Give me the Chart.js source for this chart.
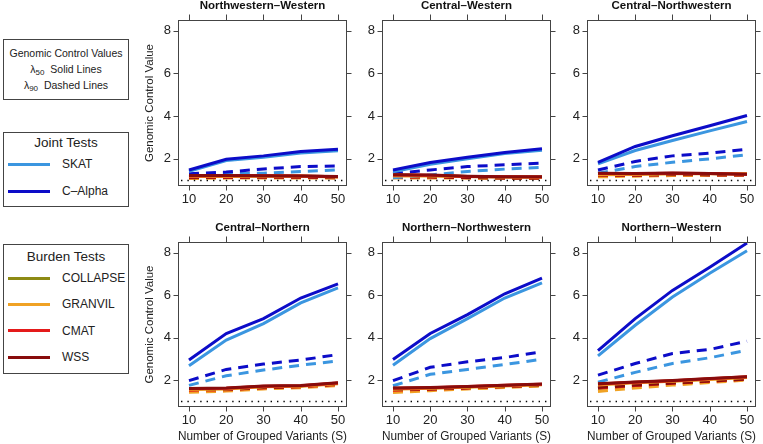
<!DOCTYPE html>
<html>
<head>
<meta charset="utf-8">
<script src="https://cdn.jsdelivr.net/npm/chart.js@4.4.0/dist/chart.umd.min.js"></script>
<style>
  body { margin: 0; background: #fff; }
  #wrap { position: relative; width: 763px; height: 444px; overflow: hidden;
          font-family: "Liberation Sans", Arial, sans-serif; color: #222; }
  #wrap canvas { position: absolute; }
  .box { position: absolute; left: 3px; width: 124px; border: 1px solid #444; }
  .txt { position: absolute; white-space: nowrap; }
  .ctr { left: 3px; width: 126px; text-align: center; }
  .swatch { position: absolute; left: 8px; width: 42px; height: 3px; }
  sub { font-size: 8px; vertical-align: -2px; line-height: 0; }
</style>
</head>
<body>
<div id="wrap">
  <div class="box" style="top:39px;height:59px"></div>
  <div class="txt ctr" style="top:47px;font-size:10.5px;line-height:12px">Genomic Control Values</div>
  <div class="txt ctr" style="top:63px;font-size:10.5px;line-height:12px">λ<sub>50</sub>&nbsp; Solid Lines</div>
  <div class="txt ctr" style="top:79px;font-size:10.5px;line-height:12px">λ<sub>90</sub>&nbsp; Dashed Lines</div>

  <div class="box" style="top:132px;height:73px"></div>
  <div class="txt ctr" style="top:136px;font-size:13.5px;line-height:14px">Joint Tests</div>
  <div id="jointKeys"></div>

  <div class="box" style="top:244px;height:128px"></div>
  <div class="txt ctr" style="top:250px;font-size:13.5px;line-height:14px">Burden Tests</div>
  <div id="burdenKeys"></div>
</div>
<script>
// grouped variants (x) and axis ticks
const groupSizes = [10, 20, 30, 40, 50];
const yTicks = [2, 4, 6, 8];
const panelTitles = ['Northwestern\u2013Western', 'Central\u2013Western', 'Central\u2013Northwestern',
                     'Central\u2013Northern', 'Northern\u2013Northwestern', 'Northern\u2013Western'];

// one row per panel, values at S = 10..50
const skatL50 = [
  [1.42, 1.92, 2.08, 2.27, 2.38],
  [1.40, 1.75, 2.00, 2.25, 2.40],
  [1.77, 2.39, 2.86, 3.31, 3.75],
  [2.67, 3.88, 4.66, 5.63, 6.34],
  [2.70, 3.95, 4.89, 5.86, 6.58],
  [3.14, 4.58, 5.91, 7.03, 8.09]
];
const skatL90 = [
  [1.17, 1.30, 1.33, 1.41, 1.48],
  [1.12, 1.25, 1.41, 1.52, 1.60],
  [1.33, 1.64, 1.84, 2.00, 2.19],
  [1.75, 2.20, 2.47, 2.70, 2.90],
  [1.73, 2.27, 2.50, 2.73, 2.98],
  [1.90, 2.36, 2.78, 3.05, 3.40]
];
const calphaL50 = [
  [1.48, 1.98, 2.14, 2.34, 2.45],
  [1.48, 1.83, 2.08, 2.30, 2.47],
  [1.84, 2.58, 3.08, 3.55, 4.03],
  [2.94, 4.19, 4.89, 5.86, 6.53],
  [2.97, 4.19, 5.08, 6.06, 6.80],
  [3.38, 4.89, 6.22, 7.31, 8.45]
];
const calphaL90 = [
  [1.30, 1.38, 1.53, 1.64, 1.67],
  [1.30, 1.48, 1.64, 1.72, 1.80],
  [1.48, 1.88, 2.14, 2.27, 2.45],
  [1.97, 2.50, 2.75, 2.94, 3.20],
  [1.97, 2.60, 2.86, 3.06, 3.33],
  [2.23, 2.78, 3.25, 3.44, 3.83]
];
const collapseL50 = [
  [1.20, 1.20, 1.21, 1.20, 1.16],
  [1.24, 1.22, 1.18, 1.16, 1.15],
  [1.30, 1.29, 1.32, 1.31, 1.29],
  [1.58, 1.60, 1.70, 1.72, 1.85],
  [1.60, 1.63, 1.68, 1.74, 1.79],
  [1.80, 1.89, 1.96, 2.05, 2.14]
];
const collapseL90 = [
  [1.12, 1.13, 1.14, 1.13, 1.12],
  [1.14, 1.14, 1.12, 1.10, 1.10],
  [1.22, 1.22, 1.25, 1.25, 1.24],
  [1.50, 1.53, 1.62, 1.67, 1.78],
  [1.50, 1.55, 1.62, 1.68, 1.74],
  [1.60, 1.73, 1.84, 1.93, 2.03]
];
const granvilL50 = [
  [1.17, 1.18, 1.19, 1.19, 1.15],
  [1.20, 1.20, 1.17, 1.15, 1.14],
  [1.26, 1.27, 1.30, 1.30, 1.30],
  [1.55, 1.58, 1.68, 1.71, 1.83],
  [1.57, 1.61, 1.66, 1.72, 1.78],
  [1.76, 1.87, 1.94, 2.03, 2.12]
];
const granvilL90 = [
  [1.08, 1.10, 1.11, 1.11, 1.10],
  [1.10, 1.11, 1.10, 1.09, 1.09],
  [1.16, 1.19, 1.22, 1.23, 1.23],
  [1.42, 1.48, 1.58, 1.64, 1.74],
  [1.41, 1.50, 1.58, 1.65, 1.72],
  [1.46, 1.63, 1.76, 1.88, 2.00]
];
const cmatL50 = [
  [1.20, 1.21, 1.21, 1.20, 1.16],
  [1.24, 1.23, 1.18, 1.16, 1.15],
  [1.31, 1.30, 1.33, 1.31, 1.28],
  [1.59, 1.61, 1.71, 1.73, 1.86],
  [1.61, 1.64, 1.69, 1.75, 1.80],
  [1.81, 1.90, 1.97, 2.06, 2.15]
];
const cmatL90 = [
  [1.12, 1.13, 1.14, 1.14, 1.12],
  [1.14, 1.15, 1.12, 1.11, 1.10],
  [1.22, 1.23, 1.26, 1.25, 1.24],
  [1.52, 1.54, 1.63, 1.68, 1.79],
  [1.52, 1.56, 1.63, 1.69, 1.75],
  [1.62, 1.74, 1.85, 1.94, 2.04]
];
const wssL50 = [
  [1.22, 1.22, 1.21, 1.20, 1.17],
  [1.26, 1.24, 1.19, 1.16, 1.16],
  [1.33, 1.31, 1.34, 1.32, 1.28],
  [1.60, 1.62, 1.72, 1.74, 1.87],
  [1.62, 1.65, 1.70, 1.76, 1.81],
  [1.83, 1.91, 1.98, 2.07, 2.16]
];
const wssL90 = [
  [1.14, 1.15, 1.15, 1.15, 1.13],
  [1.16, 1.16, 1.13, 1.11, 1.11],
  [1.24, 1.24, 1.27, 1.26, 1.25],
  [1.55, 1.56, 1.65, 1.70, 1.81],
  [1.55, 1.58, 1.64, 1.70, 1.76],
  [1.65, 1.76, 1.86, 1.95, 2.05]
];

const jointTests = [
  { name: 'SKAT', color: '#3b96e0', l50: skatL50, l90: skatL90 },
  { name: 'C\u2013Alpha', color: '#0c0cc8', l50: calphaL50, l90: calphaL90 }
];
const burdenTests = [
  { name: 'COLLAPSE', color: '#8d8a14', l50: collapseL50, l90: collapseL90 },
  { name: 'GRANVIL', color: '#f0a224', l50: granvilL50, l90: granvilL90 },
  { name: 'CMAT', color: '#e41a1a', l50: cmatL50, l90: cmatL90 },
  { name: 'WSS', color: '#880c0c', l50: wssL50, l90: wssL90 }
];

const FONT = '"Liberation Sans", Arial, sans-serif';
const wrap = document.getElementById('wrap');

// legend keys
function addKeys(list, top0, step) {
  list.forEach((s, i) => {
    const y = top0 + i * step;
    const sw = document.createElement('div');
    sw.className = 'swatch';
    sw.style.top = (y - 1.5) + 'px';
    sw.style.background = s.color;
    wrap.appendChild(sw);
    const t = document.createElement('div');
    t.className = 'txt';
    t.style.cssText = 'left:62px;top:' + (y - 7) + 'px;font-size:12px;line-height:14px';
    t.textContent = s.name;
    wrap.appendChild(t);
  });
}
addKeys(jointTests, 164, 27);
addKeys(burdenTests, 278, 26.4);

// frame, outside ticks on all sides, title and the dotted line at 1
const framePlugin = {
  id: 'frame',
  afterDatasetsDraw(chart) {
    const { ctx, chartArea: a, scales: { x, y } } = chart;
    ctx.save();
    ctx.strokeStyle = '#000';
    ctx.lineWidth = 1.4;
    ctx.setLineDash([1.4, 5]);
    const y1 = Math.round(y.getPixelForValue(1)) + 0.5;
    ctx.beginPath();
    ctx.moveTo(a.left + 3, y1);
    ctx.lineTo(a.right, y1);
    ctx.stroke();
    ctx.setLineDash([]);

    ctx.strokeStyle = '#444';
    ctx.lineWidth = 1;
    const L = Math.round(a.left) + 0.5, R = Math.round(a.right) - 0.5;
    const T = Math.round(a.top) + 0.5, B = Math.round(a.bottom) - 0.5;
    ctx.strokeRect(L, T, R - L, B - T);
    ctx.beginPath();
    groupSizes.forEach(v => {
      const px = Math.round(x.getPixelForValue(v)) + 0.5;
      ctx.moveTo(px, T); ctx.lineTo(px, T - 6);
      ctx.moveTo(px, B); ctx.lineTo(px, B + 5);
    });
    yTicks.forEach(v => {
      const py = Math.round(y.getPixelForValue(v)) + 0.5;
      ctx.moveTo(L, py); ctx.lineTo(L - 5, py);
      ctx.moveTo(R, py); ctx.lineTo(R + 5, py);
    });
    ctx.stroke();

    ctx.fillStyle = '#111';
    ctx.font = 'bold 11.5px ' + FONT;
    ctx.textAlign = 'center';
    ctx.textBaseline = 'middle';
    ctx.fillText(chart.options.plugins.frame.title, (a.left + a.right) / 2, a.top - 14);
    ctx.restore();
  }
};

const colLeft = [178, 382, 587];
const boxW = 169;

panelTitles.forEach((title, p) => {
  const col = p % 3, row = Math.floor(p / 3);
  const cv = document.createElement('canvas');
  const w = 44 + boxW + 8;
  const h = row === 0 ? 214 : 226;
  cv.width = w; cv.height = h;
  cv.style.left = (colLeft[col] - 44) + 'px';
  cv.style.top = (row === 0 ? -4 : 218) + 'px';
  wrap.appendChild(cv);

  const solid = [], dashed = [];
  [...jointTests].reverse().concat([...burdenTests].reverse()).forEach(s => {
    solid.push({
      label: s.name + ' \u03bb50',
      data: groupSizes.map((g, i) => ({ x: g, y: s.l50[p][i] })),
      borderColor: s.color, borderWidth: 3, pointRadius: 0, tension: 0
    });
    dashed.push({
      label: s.name + ' \u03bb90',
      data: groupSizes.map((g, i) => ({ x: g, y: s.l90[p][i] })),
      borderColor: s.color, borderWidth: 3, pointRadius: 0, tension: 0,
      borderDash: [10, 7]
    });
  });

  new Chart(cv, {
    type: 'line',
    data: { datasets: solid.concat(dashed) },
    options: {
      responsive: false,
      animation: false,
      layout: { padding: { top: 24, right: 8, left: 0, bottom: 0 } },
      plugins: {
        legend: { display: false },
        tooltip: { enabled: false },
        frame: { title: title }
      },
      scales: {
        x: {
          type: 'linear',
          min: 7.05, max: 52.42,
          afterBuildTicks: s => { s.ticks = groupSizes.map(v => ({ value: v })); },
          afterFit: s => { s.height = row === 0 ? 24 : 37; },
          grid: { display: false, drawTicks: false },
          border: { display: false },
          ticks: { color: '#222', padding: 6, maxRotation: 0, font: { family: FONT, size: 13 } },
          title: {
            display: row === 1,
            text: 'Number of Grouped Variants (S)',
            color: '#222',
            padding: { top: 0, bottom: 0 },
            font: { family: FONT, size: 12 }
          }
        },
        y: {
          min: 0.73, max: 8.5,
          afterBuildTicks: s => { s.ticks = yTicks.map(v => ({ value: v })); },
          afterFit: s => { s.width = 44; },
          grid: { display: false, drawTicks: false },
          border: { display: false },
          ticks: { color: '#222', padding: 7, font: { family: FONT, size: 13 } },
          title: {
            display: col === 0,
            text: 'Genomic Control Value',
            color: '#222',
            padding: { top: 9, bottom: 0 },
            font: { family: FONT, size: 11.5 }
          }
        }
      }
    },
    plugins: [framePlugin]
  });
});
</script>
</body>
</html>
